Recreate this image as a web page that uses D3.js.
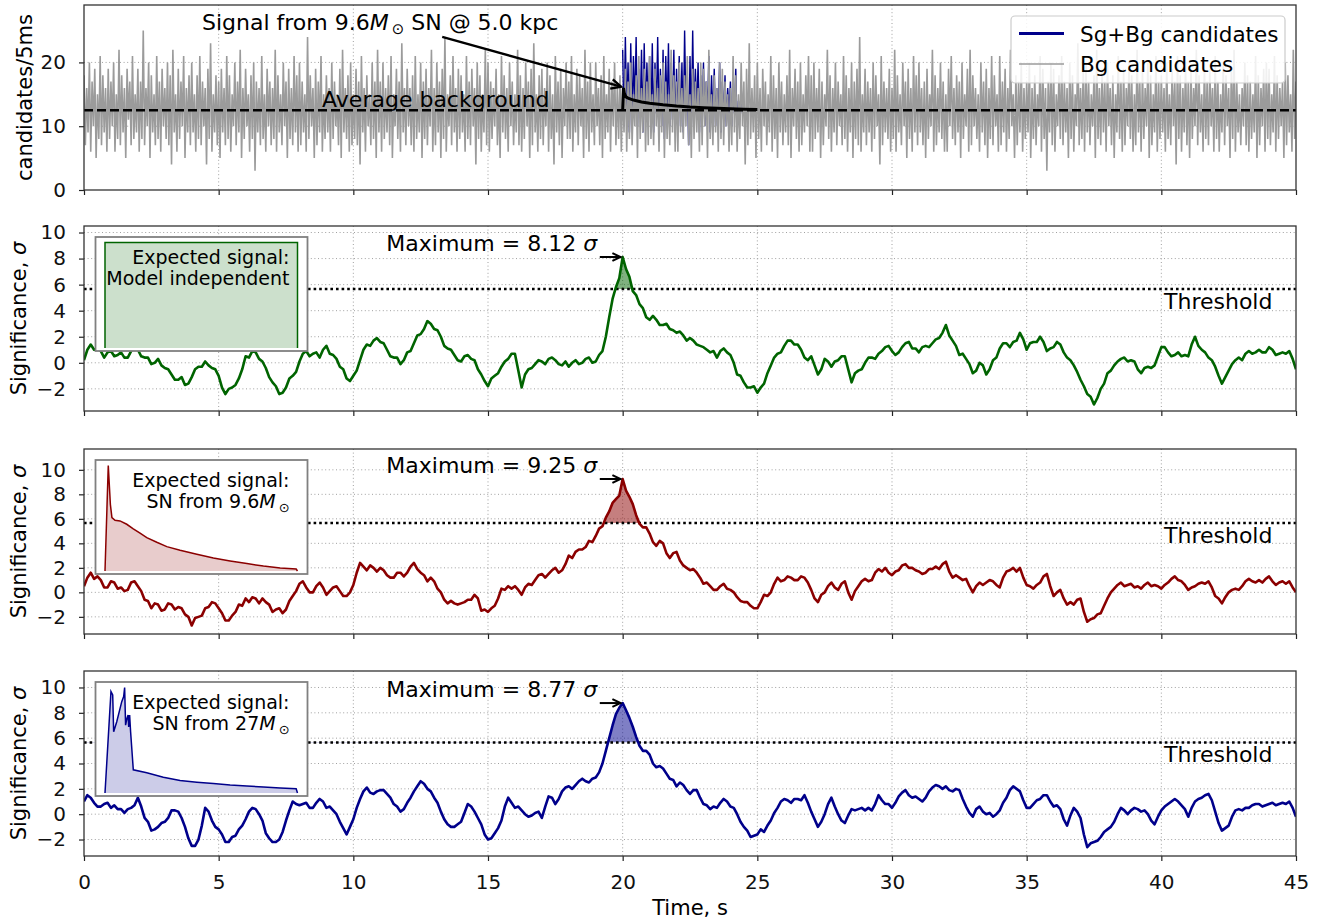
<!DOCTYPE html>
<html>
<head>
<meta charset="utf-8">
<script src="https://cdn.jsdelivr.net/npm/d3@7"></script>
<style>
body { margin: 0; background: #fff; }
svg { font-family: "DejaVu Sans", sans-serif; }
</style>
</head>
<body>
<svg id="chart" width="1338" height="920"></svg>
<script>
// ---- data ----
// background candidates per 5ms bin, sampled every 0.05 s (0 .. 45 s)
var bgStep = 0.05;
var bgCounts = [
  18,7,16,9,20,6,17,10,19,5,15,8,21,7,18,9,16,6,19,8,
  17,10,20,6,15,8,22,7,18,9,16,5,19,11,17,7,21,8,15,9,
  19,6,17,8,25,7,16,10,20,5,18,9,15,7,21,8,17,6,19,10,
  16,8,20,7,18,4,22,9,15,6,19,8,17,10,21,5,16,9,18,7,
  20,9,15,6,18,8,21,7,17,10,16,4,19,8,23,6,15,9,18,7,
  17,5,19,9,16,7,21,8,18,6,15,10,20,7,17,9,22,5,16,8,
  19,10,15,6,18,8,20,3,17,9,16,7,21,8,15,6,19,10,17,7,
  16,8,22,6,18,9,15,7,20,10,17,5,19,8,16,7,21,9,18,6,
  20,7,17,9,15,6,24,8,18,10,16,5,19,7,17,9,21,6,15,8,
  18,9,16,6,20,8,17,10,15,7,19,5,22,9,16,8,18,6,20,7,
  15,8,19,7,17,4,21,9,16,6,18,10,15,7,20,8,17,5,22,9,
  17,6,20,8,16,9,18,7,21,5,15,10,19,8,17,6,23,9,16,7,
  19,10,16,7,18,6,21,8,15,9,20,5,17,8,19,7,16,10,22,6,
  16,7,20,9,17,5,19,8,24,6,15,10,18,7,21,9,16,6,19,8,
  18,9,15,6,21,8,17,7,19,10,16,4,20,8,18,6,15,9,22,7,
  20,6,17,8,16,10,19,7,15,5,21,9,18,8,16,6,20,10,17,7,
  15,9,22,7,18,6,16,8,20,10,17,5,19,7,23,9,15,6,18,8,
  19,7,16,10,20,6,18,8,15,4,21,9,17,7,19,5,16,10,20,8,
  17,8,21,6,15,9,19,7,18,10,16,5,22,8,17,6,20,9,15,7,
  20,10,16,7,18,5,21,8,15,9,19,6,17,10,20,7,16,8,18,6,
  16,9,19,6,17,8,20,7,15,10,18,5,21,8,16,9,19,6,17,7,
  21,8,15,7,19,10,16,6,18,9,20,5,17,8,15,7,22,9,18,6,
  17,6,20,9,16,8,18,10,21,7,15,5,19,8,17,9,16,6,20,7,
  19,10,17,5,22,8,15,7,18,9,16,6,20,8,19,7,17,10,15,6,
  16,7,21,9,18,6,15,8,20,10,17,4,19,7,23,8,16,9,18,5,
  20,8,16,6,19,10,17,7,15,9,21,6,18,8,16,5,20,9,17,7,
  15,9,18,7,22,5,16,10,19,8,17,6,20,7,15,9,18,10,21,6,
  18,6,20,8,16,9,19,5,17,7,15,10,22,8,18,6,16,9,20,7,
  17,10,15,7,21,8,18,6,16,9,20,5,17,8,19,7,24,6,15,9,
  19,7,17,9,16,6,20,8,18,10,15,4,21,7,17,9,16,8,19,6,
  16,8,22,6,18,9,15,7,20,10,17,5,19,8,16,6,21,9,18,7,
  20,9,16,7,17,5,19,8,15,10,22,6,18,7,16,9,20,8,17,6,
  15,6,19,10,21,8,16,7,18,9,17,5,20,8,15,10,19,6,22,7,
  18,10,16,8,15,6,20,9,17,7,19,5,16,8,21,7,18,10,15,6,
  21,7,17,9,19,6,16,8,22,10,15,5,18,7,17,9,20,6,16,8,
  17,9,20,5,16,8,18,7,15,10,21,6,19,8,16,3,17,9,20,7,
  19,6,15,10,18,8,21,7,17,9,16,5,20,8,18,6,15,10,23,7,
  16,8,19,6,20,9,17,7,15,10,18,5,22,8,16,7,19,9,17,6,
  20,10,16,7,18,5,15,9,21,8,17,6,19,7,16,10,20,8,18,6,
  15,7,22,9,17,6,19,8,16,10,20,5,18,7,15,9,21,6,17,8,
  18,9,16,6,20,8,15,7,19,10,17,4,21,8,18,6,16,9,20,7,
  17,5,19,8,16,10,22,7,18,9,15,6,20,8,17,7,19,10,16,6,
  21,8,17,6,15,9,20,7,18,10,16,5,19,8,22,6,17,9,15,7,
  16,10,20,7,18,6,17,8,15,9,21,5,18,7,16,10,19,6,20,8,
  19,7,15,9,21,6,18,8,16,10,17,5,20,7,18,9,15,6,22,8,
  17
];
// signal + background candidates, 20.0 .. 24.5 s, every 0.05 s
var sgStart = 20;
var sgCounts = [
  22,10,24,12,20,9,23,11,21,13,24,10,19,12,22,9,23,11,20,12,
  21,10,23,9,20,12,24,11,19,10,22,8,21,12,23,10,20,11,22,9,
  19,11,21,10,20,9,25,12,18,7,21,10,25,11,19,12,20,9,18,11,
  20,10,17,12,21,9,18,11,19,10,16,12,20,9,17,11,18,10,16,12,
  17,10,15,12,19,9,14,11,16,12,13
];
// expected signal on top of the average background
var expectedT = [20.0, 20.03, 20.06, 20.12, 20.2, 20.4, 20.7, 21.0, 21.5, 22.0, 22.5, 23.0, 23.5, 24.0, 24.5, 25.0];
var expectedY = [12.5, 16.0, 15.2, 14.6, 14.4, 14.1, 13.8, 13.6, 13.35, 13.15, 13.0, 12.9, 12.8, 12.72, 12.66, 12.62];
var avgBackground = 12.5;

// significance, every 0.125 s (0 .. 45 s), one second per row
var sigStep = 0.125;
var sigModelIndep = [
  0.2,1.0,1.4,1.0,1.1,0.9,0.4,0.8,
  0.9,0.5,0.6,0.8,0.4,0.4,0.9,1.2,
  1.0,0.5,0.4,0.4,-0.1,0.0,0.3,-0.2,
  -0.4,-0.5,-0.9,-1.3,-1.3,-1.1,-1.7,-1.6,
  -1.1,-0.5,-0.3,-0.3,0.1,-0.2,-0.4,-0.5,
  -1.0,-1.9,-2.4,-2.0,-1.9,-1.7,-1.2,-0.5,
  0.5,0.4,0.9,0.8,0.3,0.1,-0.4,-1.1,
  -1.5,-1.8,-2.4,-2.3,-1.9,-1.2,-1.0,-0.7,
  0.1,0.7,0.9,0.5,0.7,0.8,0.4,1.0,
  1.3,0.7,0.6,0.3,-0.3,-0.5,-1.2,-1.4,
  -1.0,-0.6,0.2,1.0,1.4,1.3,1.7,1.9,
  1.6,1.5,1.0,0.5,0.4,0.4,-0.1,0.2,
  0.8,0.9,1.5,2.1,2.2,2.6,3.2,3.0,
  2.6,2.5,2.0,1.3,1.1,1.0,0.6,0.2,
  0.1,0.5,0.6,0.3,0.2,-0.5,-0.9,-1.4,
  -1.8,-1.2,-1.0,-0.8,-0.3,0.1,0.3,0.7,
  0.7,-0.6,-1.9,-0.9,-0.5,-0.4,-0.1,0.2,
  0.1,-0.1,0.3,0.4,0.2,-0.1,-0.2,0.1,
  -0.3,0.0,0.2,-0.1,0.0,0.3,0.4,0.0,
  0.1,0.6,0.9,2.0,3.5,4.9,5.8,6.5,
  8.12,7.2,6.6,5.5,5.2,4.5,4.2,3.5,
  3.3,3.6,3.3,2.9,2.9,3.0,2.6,2.5,
  2.3,2.4,2.1,1.7,1.9,1.7,1.4,1.3,
  1.2,1.0,0.8,0.9,0.4,0.9,1.1,0.8,
  0.6,0.0,-0.9,-1.0,-1.5,-1.9,-1.9,-1.8,
  -2.3,-1.9,-1.6,-0.8,-0.2,0.4,0.7,0.8,
  1.3,1.7,1.7,1.4,1.4,1.0,0.4,0.2,
  0.5,-0.2,-0.9,-0.5,0.3,0.1,-0.3,0.1,
  0.2,0.5,0.5,-0.5,-1.5,-0.8,-0.6,-0.5,
  0.0,0.4,0.4,0.3,0.7,0.9,1.2,1.3,
  0.9,0.6,0.8,1.2,1.5,1.6,1.1,1.1,
  0.8,1.2,1.3,1.2,1.5,1.8,1.9,2.3,
  2.9,2.1,1.7,1.3,0.6,0.7,0.3,-0.1,
  -0.8,-0.6,0.0,-0.2,-0.9,-0.5,0.2,0.4,
  1.1,1.5,1.5,1.2,1.6,1.7,2.3,1.8,
  1.0,1.5,1.6,1.6,2.0,1.6,0.9,1.1,
  1.2,1.6,1.4,0.8,0.4,0.2,-0.2,-0.7,
  -1.3,-1.8,-2.4,-2.6,-3.2,-2.7,-2.0,-1.6,
  -0.8,-0.6,-0.2,0.1,0.3,0.4,0.1,0.2,
  0.1,-0.5,-0.8,-0.4,-0.3,-0.4,-0.2,0.5,
  1.2,1.2,0.8,0.5,0.6,0.8,0.5,0.6,
  0.5,1.4,2.0,1.3,1.0,0.8,0.4,0.2,
  -0.3,-1.0,-1.6,-1.1,-0.6,-0.1,0.2,0.4,
  0.2,0.7,0.9,0.7,0.8,1.0,0.8,0.8,
  1.2,1.0,0.6,0.7,0.8,0.7,0.9,0.3,
  -0.5
];
var sig96 = [
  0.5,1.2,1.6,1.1,1.3,1.0,0.4,0.4,
  0.9,0.8,0.3,0.4,0.1,0.2,0.8,0.9,
  0.5,0.1,-0.6,-0.7,-1.3,-0.9,-1.0,-1.5,
  -1.4,-0.9,-1.0,-1.4,-1.2,-1.3,-1.8,-2.0,
  -2.7,-2.1,-2.0,-1.9,-1.3,-1.2,-0.8,-0.9,
  -1.3,-1.7,-2.3,-2.3,-1.9,-1.6,-1.0,-1.1,
  -0.5,-0.8,-0.4,-0.5,-0.9,-0.5,-0.8,-1.0,
  -1.6,-1.4,-1.3,-1.7,-1.4,-0.7,-0.3,0.1,
  0.7,0.9,0.4,0.0,0.0,0.5,0.8,0.4,
  -0.2,0.1,0.4,0.5,0.1,-0.3,-0.3,0.0,
  0.6,1.6,2.4,2.1,1.8,2.2,2.0,1.7,
  2.0,1.8,1.4,1.2,1.2,1.6,1.6,1.3,
  1.6,2.1,2.4,1.9,1.6,1.4,0.9,1.2,
  0.9,0.3,0.0,-0.6,-0.9,-0.7,-0.9,-1.0,
  -0.9,-0.8,-0.6,-0.6,-0.2,-0.5,-1.5,-1.4,
  -1.6,-1.3,-1.1,-0.5,0.3,0.2,0.5,0.3,
  0.5,0.2,-0.2,0.4,0.7,0.6,1.0,1.4,
  1.5,1.2,1.5,1.8,2.0,1.6,1.8,2.3,
  3.0,2.8,3.3,3.5,3.5,3.7,4.2,4.1,
  4.6,5.2,5.4,6.1,6.6,7.3,7.6,7.9,
  9.25,8.3,7.8,7.2,6.3,5.6,5.3,5.3,
  4.8,4.1,3.8,4.2,4.0,3.2,2.8,3.2,
  3.3,2.6,2.2,2.0,1.8,1.9,1.6,1.2,
  0.7,0.8,0.5,0.2,0.2,0.5,0.7,0.3,
  0.2,0.0,-0.4,-0.7,-0.8,-0.8,-1.1,-1.3,
  -1.3,-0.8,-0.2,-0.3,0.0,0.7,1.2,0.9,
  1.0,1.3,1.2,1.0,1.0,1.3,1.2,0.8,
  0.2,-0.5,-0.8,-0.2,0.0,0.5,0.8,0.4,
  0.2,0.7,0.9,0.0,-0.6,0.1,0.5,0.9,
  1.1,0.9,1.0,1.6,1.9,1.7,2.0,1.6,
  1.4,1.7,1.8,2.2,2.3,2.0,2.0,1.8,
  1.7,1.5,1.6,1.9,1.9,2.1,1.9,2.3,
  2.5,1.7,1.2,1.4,1.2,1.0,1.1,0.5,
  0.0,0.5,0.8,0.6,0.8,1.0,0.9,0.6,
  0.4,1.2,1.7,1.8,2.0,1.7,2.0,1.2,
  0.6,0.5,0.3,0.6,0.8,1.3,1.5,0.5,
  -0.3,0.0,0.2,-0.5,-1.0,-0.8,-1.0,-0.6,
  -0.5,-1.6,-2.4,-2.2,-2.1,-1.8,-1.7,-1.1,
  -0.5,0.0,0.3,0.6,0.8,0.5,0.6,0.7,
  0.4,0.5,0.3,0.6,0.8,0.5,0.6,0.5,
  0.3,0.6,0.8,1.1,1.3,1.0,0.9,0.6,
  0.2,0.4,0.5,0.7,0.8,0.7,0.9,0.4,
  -0.3,-0.5,-0.9,-0.4,0.0,0.2,0.3,0.2,
  0.5,0.9,1.1,0.9,0.8,1.0,0.8,1.1,
  1.3,0.9,0.6,0.8,0.9,0.7,0.9,0.4,
  0.0
];
var sig27 = [
  1.0,1.5,1.3,0.9,0.6,0.6,0.8,0.9,
  0.5,0.7,0.4,0.4,0.1,0.4,0.5,0.7,
  1.3,0.6,-0.3,-0.6,-1.3,-1.2,-1.0,-0.7,
  -0.6,-0.3,0.3,0.3,0.2,-0.3,-1.0,-1.9,
  -2.5,-2.5,-2.0,-0.9,0.5,0.2,-0.5,-1.0,
  -1.2,-1.6,-2.2,-2.2,-1.8,-1.7,-1.2,-0.9,
  -0.4,0.2,0.5,0.4,0.0,-0.5,-1.5,-1.9,
  -2.2,-2.2,-2.0,-1.4,-0.5,0.3,1.0,0.8,
  0.7,0.8,0.9,0.5,0.5,0.9,1.2,1.0,
  0.5,0.6,0.3,0.0,-0.6,-1.1,-1.6,-1.0,
  -0.4,0.5,1.2,1.8,2.1,1.7,1.6,1.8,
  1.9,1.9,1.6,1.3,0.8,0.6,0.2,0.4,
  0.9,1.3,1.8,2.2,2.6,2.4,2.0,1.8,
  1.3,0.9,0.2,-0.4,-0.8,-1.0,-1.0,-0.8,
  -0.6,0.1,0.8,0.6,0.2,-0.3,-0.8,-1.6,
  -2.0,-1.9,-1.5,-1.1,-0.5,0.6,1.3,0.9,
  0.5,0.6,0.3,0.0,-0.2,-0.1,0.1,0.2,
  -0.3,0.6,1.4,1.3,0.8,1.2,1.8,2.1,
  2.2,2.0,2.3,2.6,2.8,2.6,2.5,2.8,
  2.9,3.3,4.0,5.0,6.0,7.0,7.9,8.4,
  8.77,8.2,7.6,6.9,6.1,5.4,5.0,5.0,
  4.7,4.0,3.7,3.8,3.6,3.2,2.8,2.7,
  2.2,2.5,2.3,1.9,1.6,1.9,1.9,1.3,
  0.8,0.7,0.4,0.6,0.5,0.9,1.2,1.0,
  0.6,0.5,0.0,-0.6,-1.0,-1.3,-1.8,-1.7,
  -1.6,-1.2,-1.4,-0.9,-0.5,0.1,0.5,1.0,
  1.2,1.1,0.9,1.2,1.2,1.1,1.5,0.9,
  0.2,-0.4,-1.0,-0.6,0.0,0.8,1.3,0.6,
  0.0,-0.5,-0.7,-0.1,0.4,0.3,0.4,0.5,
  0.3,0.5,0.3,0.8,1.5,1.1,0.8,0.8,
  0.5,0.9,1.4,1.7,1.9,1.5,1.3,1.4,
  1.2,1.0,1.3,1.8,2.1,2.3,2.2,2.0,
  2.2,1.9,1.8,2.0,1.9,1.2,0.6,0.1,
  -0.2,0.4,0.6,0.2,0.0,0.1,-0.2,0.0,
  0.3,0.9,1.3,1.9,2.2,2.0,1.8,1.1,
  0.5,0.5,0.8,1.1,1.2,1.5,1.5,1.0,
  0.6,0.7,0.4,-0.4,-0.9,-0.1,0.5,0.2,
  -0.3,-1.6,-2.6,-2.3,-2.2,-2.1,-1.8,-1.4,
  -1.2,-1.0,-0.6,0.0,0.5,0.3,0.0,0.3,
  0.5,0.4,0.2,0.3,0.0,-0.5,-0.8,-0.2,
  0.3,0.6,0.8,1.0,1.2,1.0,0.7,0.4,
  -0.2,0.5,1.0,1.2,1.3,1.5,1.6,1.1,
  0.2,-0.7,-1.3,-1.1,-0.9,-0.2,0.3,0.4,
  0.3,0.5,0.5,0.7,0.8,0.8,0.6,0.7,
  0.8,0.9,0.7,0.8,0.9,0.8,1.0,0.5,
  -0.2
];
var threshold = 5.66;
var maxima = [8.12, 9.25, 8.77];

// expected signal shapes for the insets (relative time, relative height)
var insetFlatT = [0, 0, 1, 1];
var insetFlatV = [0, 1, 1, 0];
var inset96T = [0, 0.017, 0.028, 0.036, 0.052, 0.078, 0.113, 0.147, 0.182, 0.217, 0.269, 0.321, 0.39, 0.477, 0.563, 0.65, 0.737, 0.823, 0.91, 0.993, 1];
var inset96V = [0, 1, 0.63, 0.506, 0.48, 0.475, 0.443, 0.40, 0.358, 0.316, 0.272, 0.231, 0.196, 0.158, 0.123, 0.095, 0.07, 0.047, 0.028, 0.019, 0];
var inset27T = [0, 0.031, 0.040, 0.045, 0.061, 0.087, 0.097, 0.102, 0.107, 0.114, 0.12, 0.123, 0.128, 0.133, 0.147, 0.217, 0.303, 0.39, 0.477, 0.563, 0.65, 0.737, 0.823, 0.91, 0.993, 1];
var inset27V = [0, 0.962, 0.93, 0.58, 0.675, 0.866, 0.914, 1.0, 0.643, 0.707, 0.739, 0.627, 0.739, 0.58, 0.22, 0.191, 0.15, 0.118, 0.102, 0.089, 0.076, 0.067, 0.057, 0.048, 0.041, 0];

var xTicks = [0, 5, 10, 15, 20, 25, 30, 35, 40, 45];
var topTicks = [0, 10, 20];
var sigTicks = [-2, 0, 2, 4, 6, 8, 10];

// ---- layout ----
var svg = d3.select("#chart");
var left = 84, right = 1296, ph = 185;
var x = d3.scaleLinear().domain([0, 45]).range([left, right]);
var gridColor = "#a0a0a0";

function makePanel(top, yDomain, yTicks, id) {
  var y = d3.scaleLinear().domain(yDomain).range([top + ph, top]);
  var g = svg.append("g");
  svg.append("clipPath").attr("id", id).append("rect")
    .attr("x", left).attr("y", top).attr("width", right - left).attr("height", ph);
  // grid
  g.selectAll(".gx").data(xTicks.filter(function(d) { return d > 0 && d < 45; })).join("line")
    .attr("x1", function(d) { return x(d); }).attr("x2", function(d) { return x(d); })
    .attr("y1", top).attr("y2", top + ph)
    .attr("stroke", gridColor).attr("stroke-width", 1).attr("stroke-dasharray", "1,2.6");
  g.selectAll(".gy").data(yTicks.filter(function(d) { return y(d) > top + 1 && y(d) < top + ph - 1; })).join("line")
    .attr("x1", left).attr("x2", right)
    .attr("y1", function(d) { return y(d); }).attr("y2", function(d) { return y(d); })
    .attr("stroke", gridColor).attr("stroke-width", 1).attr("stroke-dasharray", "1,2.6");
  var body = g.append("g").attr("clip-path", "url(#" + id + ")");
  return { g: g, body: body, y: y, top: top };
}

function finishPanel(p, yTicks, showX) {
  var xa = p.g.append("g").attr("transform", "translate(0," + (p.top + ph) + ")")
    .call(d3.axisBottom(x).tickValues(xTicks).tickSize(5).tickPadding(14)
      .tickFormat(showX ? d3.format("d") : function() { return ""; }));
  var ya = p.g.append("g").attr("transform", "translate(" + left + ",0)")
    .call(d3.axisLeft(p.y).tickValues(yTicks).tickSize(5).tickPadding(13));
  [xa, ya].forEach(function(a) {
    a.select(".domain").remove();
    a.attr("font-family", "DejaVu Sans").attr("font-size", 20);
    a.selectAll("line").attr("stroke", "#222").attr("stroke-width", 1.2);
    a.selectAll("text").attr("fill", "#111");
  });
  p.g.append("rect").attr("x", left).attr("y", p.top).attr("width", right - left).attr("height", ph)
    .attr("fill", "none").attr("stroke", "#333").attr("stroke-width", 1.3);
}

function arrow(g, x1, y1, x2, y2, w, head) {
  var a = Math.atan2(y2 - y1, x2 - x1);
  g.append("line").attr("x1", x1).attr("y1", y1).attr("x2", x2).attr("y2", y2)
    .attr("stroke", "#000").attr("stroke-width", w);
  var p = d3.path();
  p.moveTo(x2 - head * Math.cos(a - 0.45), y2 - head * Math.sin(a - 0.45));
  p.lineTo(x2, y2);
  p.lineTo(x2 - head * Math.cos(a + 0.45), y2 - head * Math.sin(a + 0.45));
  g.append("path").attr("d", p.toString()).attr("fill", "none")
    .attr("stroke", "#000").attr("stroke-width", w).attr("stroke-linejoin", "miter");
}

function solarMass(t, prefix, suffix) {
  t.append("tspan").text(prefix);
  t.append("tspan").attr("font-style", "italic").text("M");
  t.append("tspan").attr("font-size", "0.68em").attr("dx", 3).attr("dy", 4).text("\u2299");
  if (suffix) t.append("tspan").attr("dy", -4).text(suffix);
}

// ---- top panel: candidates ----
var p1 = makePanel(5, [0, 29], topTicks, "c1");
var bgLine = d3.line().x(function(d, i) { return x(i * bgStep); }).y(function(d) { return p1.y(d); });
var sgLine = d3.line().x(function(d, i) { return x(sgStart + i * bgStep); }).y(function(d) { return p1.y(d); });
p1.body.append("path").datum(sgCounts).attr("d", sgLine)
  .attr("fill", "none").attr("stroke", "#00008b").attr("stroke-width", 1.4);
p1.body.append("path").datum(bgCounts).attr("d", bgLine)
  .attr("fill", "none").attr("stroke", "#9b9b9b").attr("stroke-width", 1.6).attr("stroke-linejoin", "bevel");
p1.body.append("line").attr("x1", left).attr("x2", right)
  .attr("y1", p1.y(avgBackground)).attr("y2", p1.y(avgBackground))
  .attr("stroke", "#000").attr("stroke-width", 2.6).attr("stroke-dasharray", "9,4");
p1.body.append("path").datum(expectedT.map(function(t, i) { return [t, expectedY[i]]; }))
  .attr("d", d3.line().x(function(d) { return x(d[0]); }).y(function(d) { return p1.y(d[1]); }))
  .attr("fill", "none").attr("stroke", "#000").attr("stroke-width", 3);
finishPanel(p1, topTicks, false);

p1.g.append("text").attr("x", x(8.84)).attr("y", p1.y(13.0)).attr("font-size", 22).attr("fill", "#000")
  .text("Average background");
var sigTxt = p1.g.append("text").attr("x", x(4.38)).attr("y", p1.y(25.1)).attr("font-size", 22).attr("fill", "#000");
solarMass(sigTxt, "Signal from 9.6", " SN @ 5.0 kpc");
arrow(p1.g, x(13.3), p1.y(24.0), x(19.94), p1.y(16.2), 2.4, 11);

// legend
var lg = p1.g.append("g");
lg.append("rect").attr("x", 1011).attr("y", 16).attr("width", 274).attr("height", 67).attr("rx", 4)
  .attr("fill", "#fff").attr("fill-opacity", 0.85).attr("stroke", "#ccc").attr("stroke-width", 1.2);
lg.append("line").attr("x1", 1019).attr("x2", 1064).attr("y1", 33.5).attr("y2", 33.5)
  .attr("stroke", "#00008b").attr("stroke-width", 3);
lg.append("line").attr("x1", 1019).attr("x2", 1064).attr("y1", 64).attr("y2", 64)
  .attr("stroke", "#9b9b9b").attr("stroke-width", 1.6);
lg.append("text").attr("x", 1080).attr("y", 41.5).attr("font-size", 21.5).text("Sg+Bg candidates");
lg.append("text").attr("x", 1080).attr("y", 72).attr("font-size", 21.5).text("Bg candidates");

svg.append("text").attr("transform", "translate(32," + (5 + ph / 2) + ") rotate(-90)")
  .attr("text-anchor", "middle").attr("font-size", 21).text("candidates/5ms");

// ---- significance panels ----
var sigPanels = [
  { top: 226, dom: [-3.7, 10.5], data: sigModelIndep, color: "#006400", max: maxima[0],
    it: insetFlatT, iv: insetFlatV, line2: function(t) { t.text("Model independent"); } },
  { top: 449, dom: [-3.4, 11.7], data: sig96, color: "#8b0000", max: maxima[1],
    it: inset96T, iv: inset96V, line2: function(t) { solarMass(t, "SN from 9.6", ""); } },
  { top: 671, dom: [-3.3, 11.3], data: sig27, color: "#00008b", max: maxima[2],
    it: inset27T, iv: inset27V, line2: function(t) { solarMass(t, "SN from 27", ""); } }
];

sigPanels.forEach(function(sp, k) {
  var p = makePanel(sp.top, sp.dom, sigTicks, "s" + k);
  var ty = p.y(threshold);
  var pts = sp.data.map(function(v, i) { return [i * sigStep, v]; });

  // shaded region above threshold
  svg.append("clipPath").attr("id", "above" + k).append("rect")
    .attr("x", left).attr("y", sp.top).attr("width", right - left).attr("height", ty - sp.top);
  p.body.append("path").datum(pts)
    .attr("clip-path", "url(#above" + k + ")")
    .attr("d", d3.area().x(function(d) { return x(d[0]); }).y0(ty).y1(function(d) { return p.y(d[1]); }))
    .attr("fill", sp.color).attr("fill-opacity", 0.5);

  p.body.append("line").attr("x1", left).attr("x2", right).attr("y1", ty).attr("y2", ty)
    .attr("stroke", "#000").attr("stroke-width", 2.6).attr("stroke-dasharray", "2.6,3");
  p.body.append("path").datum(pts)
    .attr("d", d3.line().x(function(d) { return x(d[0]); }).y(function(d) { return p.y(d[1]); }))
    .attr("fill", "none").attr("stroke", sp.color).attr("stroke-width", 2.6).attr("stroke-linejoin", "round");

  p.g.append("text").attr("x", x(40.1)).attr("y", ty + 19.5).attr("font-size", 22).text("Threshold");

  // maximum annotation
  var my = p.y(sp.max);
  var mt = p.g.append("text").attr("x", x(19.05)).attr("y", my - 6).attr("text-anchor", "end").attr("font-size", 22);
  mt.append("tspan").text("Maximum = " + sp.max.toFixed(2) + " ");
  mt.append("tspan").attr("font-style", "italic").text("\u03c3");
  arrow(p.g, x(19.15), my, x(19.92), my, 2, 9);

  // inset with the expected signal shape
  var fx = 95.5, fy = sp.top + 11, fw = 212, fh = 114;
  var ig = p.g.append("g");
  ig.append("rect").attr("x", fx).attr("y", fy).attr("width", fw).attr("height", fh)
    .attr("fill", "#fff").attr("stroke", "#808080").attr("stroke-width", 1.8);
  var ix = d3.scaleLinear().domain([0, 1]).range([fx + 9.5, fx + fw - 10]);
  var iy = d3.scaleLinear().domain([0, 1]).range([fy + fh - 3, fy + 5.5]);
  var ipts = sp.it.map(function(t, i) { return [t, sp.iv[i]]; });
  ig.append("path").datum(ipts)
    .attr("d", d3.area().x(function(d) { return ix(d[0]); }).y0(iy(0)).y1(function(d) { return iy(d[1]); }))
    .attr("fill", sp.color).attr("fill-opacity", 0.2);
  ig.append("path").datum(ipts)
    .attr("d", d3.line().x(function(d) { return ix(d[0]); }).y(function(d) { return iy(d[1]); }))
    .attr("fill", "none").attr("stroke", sp.color).attr("stroke-width", 1.5);
  ig.append("text").attr("x", fx + fw - 18).attr("y", fy + 26.5).attr("text-anchor", "end")
    .attr("font-size", 19).text("Expected signal:");
  var l2 = ig.append("text").attr("x", fx + fw - 18).attr("y", fy + 47.5).attr("text-anchor", "end")
    .attr("font-size", 19);
  sp.line2(l2);

  finishPanel(p, sigTicks, k === 2);

  svg.append("text").attr("transform", "translate(26," + (sp.top + ph / 2) + ") rotate(-90)")
    .attr("text-anchor", "middle").attr("font-size", 21)
    .call(function(t) {
      t.append("tspan").text("Significance, ");
      t.append("tspan").attr("font-style", "italic").text("\u03c3");
    });
});

svg.append("text").attr("x", x(22.5)).attr("y", 915).attr("text-anchor", "middle")
  .attr("font-size", 21).text("Time, s");
</script>
</body>
</html>
